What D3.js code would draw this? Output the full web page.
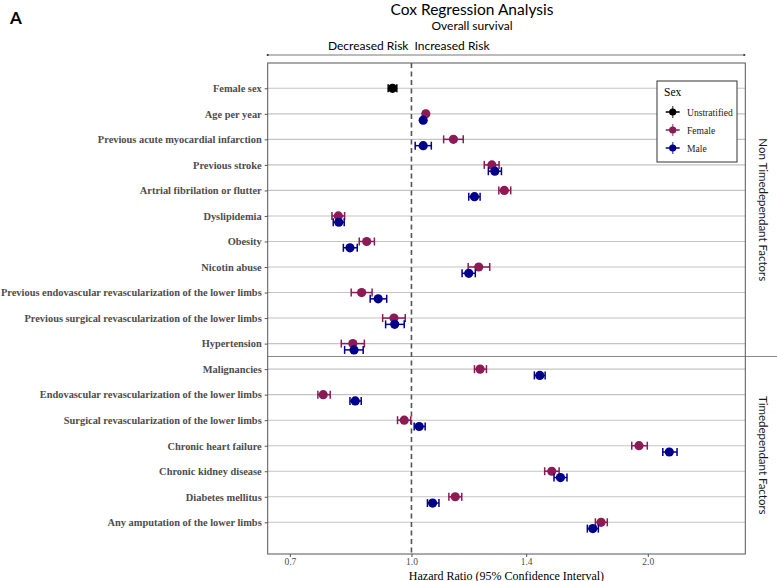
<!DOCTYPE html>
<html><head><meta charset="utf-8">
<script src="https://cdn.jsdelivr.net/npm/d3@7"></script>
<style>body{margin:0;background:#fff}svg{display:block}</style>
</head><body>
<svg id="chart" width="777" height="581"></svg>
<script>
// ---------------- data ----------------
const topCats = ["Female sex","Age per year","Previous acute myocardial infarction","Previous stroke",
  "Artrial fibrilation or flutter","Dyslipidemia","Obesity","Nicotin abuse",
  "Previous endovascular revascularization of the lower limbs",
  "Previous surgical revascularization of the lower limbs","Hypertension"];
const bottomCats = ["Malignancies","Endovascular revascularization of the lower limbs",
  "Surgical revascularization of the lower limbs","Chronic heart failure","Chronic kidney disease",
  "Diabetes mellitus","Any amputation of the lower limbs"];
const facetLabels = ["Non Timedependant Factors","Timedependant Factors"];

const unstratCats = ["Female sex"];
const unstratHR = [0.946], unstratLo = [0.934], unstratHi = [0.958];

// stratified categories (all except "Female sex")
const sexCats = topCats.slice(1).concat(bottomCats);
const femaleHR = [1.043,1.131,1.266,1.313,0.807,0.877,1.218,0.864,0.950,0.842,1.223,0.772,0.979,1.949,1.509,1.137,1.744];
const femaleLo = [1.039,1.099,1.238,1.292,0.792,0.858,1.181,0.838,0.919,0.814,1.203,0.760,0.960,1.908,1.478,1.116,1.715];
const femaleHi = [1.047,1.164,1.293,1.338,0.822,0.897,1.258,0.891,0.982,0.871,1.246,0.788,0.998,1.997,1.542,1.159,1.776];
const maleHR   = [1.035,1.035,1.277,1.203,0.808,0.835,1.183,0.907,0.952,0.845,1.457,0.848,1.023,2.130,1.548,1.064,1.702];
const maleLo   = [1.031,1.011,1.253,1.183,0.795,0.819,1.160,0.886,0.927,0.822,1.434,0.835,1.008,2.090,1.519,1.048,1.675];
const maleHi   = [1.039,1.060,1.302,1.223,0.821,0.853,1.206,0.930,0.979,0.868,1.480,0.863,1.041,2.179,1.578,1.084,1.730];

const xTicks = [0.7, 1.0, 1.4, 2.0];
const xDomain = [0.656, 2.662];
const legendLabels = ["Unstratified","Female","Male"];
const colors = {Unstratified:"#000000", Female:"#8B1A55", Male:"#00008B"};

// ---------------- layout ----------------
const svg = d3.select("#chart");
const P = {left:267.7, right:745.3, top:63, bottom:554};
const divY = 356.5;
const serif = "'Liberation Serif','Times New Roman',serif";
const sans = "Lato, 'Open Sans', sans-serif";

const x = d3.scaleLog().domain(xDomain).range([P.left, P.right]);
const allCats = topCats.concat(bottomCats);
const y = d3.scalePoint().domain(allCats).range([88.3, 522.3]);
const maleOff = 6.3;

// titles
svg.append("text").attr("x",10).attr("y",24).text("A")
  .attr("font-family",sans).attr("font-weight","bold").attr("font-size",17);
svg.append("text").attr("x",472).attr("y",14.5).attr("text-anchor","middle")
  .attr("font-family",sans).attr("font-size",15.5).text("Cox Regression Analysis");
svg.append("text").attr("x",472).attr("y",29.5).attr("text-anchor","middle")
  .attr("font-family",sans).attr("font-size",12).text("Overall survival");

// risk arrow
svg.append("line").attr("x1",P.left).attr("x2",P.right-1).attr("y1",55).attr("y2",55)
  .attr("stroke","#555").attr("stroke-width",0.8);
[P.left, P.right-1].forEach(px=>svg.append("circle").attr("cx",px).attr("cy",55).attr("r",1.1).attr("fill","#333"));
svg.append("text").attr("x",x(1)-3).attr("y",50).attr("text-anchor","end")
  .attr("font-family",sans).attr("font-size",12).text("Decreased Risk");
svg.append("text").attr("x",x(1)+3).attr("y",50).attr("text-anchor","start")
  .attr("font-family",sans).attr("font-size",12).text("Increased Risk");

// panel background
svg.append("rect").attr("x",P.left).attr("y",P.top).attr("width",P.right-P.left).attr("height",P.bottom-P.top)
  .attr("fill","#fff");

// gridlines
svg.append("g").selectAll("line").data(allCats).join("line")
  .attr("x1",P.left).attr("x2",P.right).attr("y1",d=>y(d)).attr("y2",d=>y(d))
  .attr("stroke","#c4c4c4").attr("stroke-width",1.1);

// facet divider
svg.append("line").attr("x1",P.left).attr("x2",777).attr("y1",divY).attr("y2",divY)
  .attr("stroke","#8a8a8a").attr("stroke-width",1);

// reference line
svg.append("line").attr("x1",x(1)).attr("x2",x(1)).attr("y1",P.top).attr("y2",P.bottom)
  .attr("stroke","#555").attr("stroke-width",1.6).attr("stroke-dasharray","5,3.5");

// panel border
svg.append("rect").attr("x",P.left).attr("y",P.top).attr("width",P.right-P.left).attr("height",P.bottom-P.top)
  .attr("fill","none").attr("stroke","#555").attr("stroke-width",1);

// y axis
const yAxis = svg.append("g").attr("transform",`translate(${P.left},0)`)
  .call(d3.axisLeft(y).tickSize(3).tickPadding(3));
yAxis.select(".domain").remove();
yAxis.selectAll(".tick line").attr("stroke","#555");
yAxis.selectAll(".tick text").attr("font-family",serif).attr("font-weight","bold")
  .attr("font-size",10.4).attr("fill","#4d4d4d");

// x axis
const xAxis = svg.append("g").attr("transform",`translate(0,${P.bottom})`)
  .call(d3.axisBottom(x).tickValues(xTicks).tickFormat(d3.format(".1f")).tickSize(3).tickPadding(1));
xAxis.select(".domain").remove();
xAxis.selectAll(".tick line").attr("stroke","#555");
xAxis.selectAll(".tick text").attr("font-family",serif).attr("font-size",9.5).attr("fill","#4d4d4d");
svg.append("text").attr("x",(P.left+P.right)/2).attr("y",579.5).attr("text-anchor","middle")
  .attr("font-family",serif).attr("font-size",12).text("Hazard Ratio (95% Confidence Interval)");

// strip labels
[[facetLabels[0],(P.top+divY)/2],[facetLabels[1],(divY+P.bottom)/2]].forEach(([t,cy])=>{
  svg.append("text").attr("transform",`translate(759,${cy}) rotate(90)`).attr("text-anchor","middle")
    .attr("font-family",sans).attr("font-size",11.5).attr("fill","#1a1a1a").text(t);
});

// series
function drawSeries(cats, hr, lo, hi, color, off){
  const g = svg.append("g");
  const rows = cats.map((c,i)=>({c, hr:hr[i], lo:lo[i], hi:hi[i]}));
  const cap = 4;
  rows.forEach(r=>{
    const cy = y(r.c)+off;
    g.append("line").attr("x1",x(r.lo)).attr("x2",x(r.hi)).attr("y1",cy).attr("y2",cy)
      .attr("stroke",color).attr("stroke-width",1.5);
    [r.lo,r.hi].forEach(v=>g.append("line").attr("x1",x(v)).attr("x2",x(v)).attr("y1",cy-cap).attr("y2",cy+cap)
      .attr("stroke",color).attr("stroke-width",1.5));
  });
  g.selectAll("circle").data(rows).join("circle")
    .attr("cx",d=>x(d.hr)).attr("cy",d=>y(d.c)+off).attr("r",4.6).attr("fill",color);
}
drawSeries(unstratCats, unstratHR, unstratLo, unstratHi, colors.Unstratified, 0);
drawSeries(sexCats, femaleHR, femaleLo, femaleHi, colors.Female, 0);
drawSeries(sexCats, maleHR, maleLo, maleHi, colors.Male, maleOff);

// legend
const L = svg.append("g").attr("transform","translate(657,81)");
L.append("rect").attr("width",80).attr("height",81).attr("fill","#fff").attr("stroke","#333").attr("stroke-width",1);
L.append("text").attr("x",7).attr("y",15).attr("font-family",serif).attr("font-size",11.5).text("Sex");
legendLabels.forEach((lab,i)=>{
  const cy = 31 + i*18, cx = 15.7, c = colors[lab];
  L.append("line").attr("x1",cx-7).attr("x2",cx+7).attr("y1",cy).attr("y2",cy).attr("stroke",c).attr("stroke-width",1.5);
  L.append("line").attr("x1",cx).attr("x2",cx).attr("y1",cy-6).attr("y2",cy+6).attr("stroke",c).attr("stroke-width",1.5).attr("opacity",0.6);
  L.append("circle").attr("cx",cx).attr("cy",cy).attr("r",3.6).attr("fill",c);
  L.append("text").attr("x",30).attr("y",cy+3.5).attr("font-family",serif).attr("font-size",9.6).attr("fill","#1a1a1a").text(lab);
});
</script>
</body></html>
